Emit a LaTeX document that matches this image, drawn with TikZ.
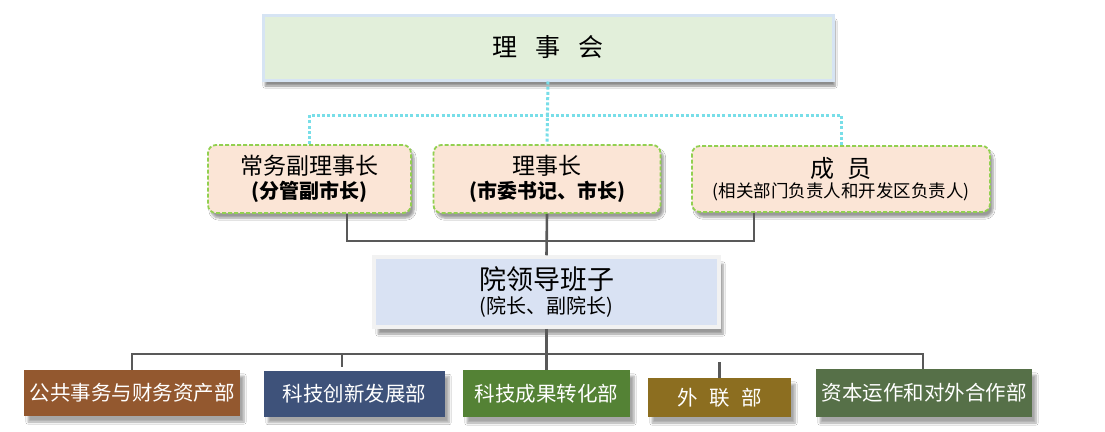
\documentclass[tikz,border=0pt]{standalone}
\usepackage{fontspec}
\setmainfont{Noto Sans CJK SC}
\definecolor{boardgreen}{RGB}{226, 239, 218}
\definecolor{boardedge}{RGB}{214, 228, 243}
\definecolor{leadpeach}{RGB}{251, 229, 214}
\definecolor{leadgreen}{RGB}{146, 208, 80}
\definecolor{instblue}{RGB}{217, 226, 243}
\definecolor{instedge}{RGB}{242, 242, 242}
\definecolor{lineGray}{RGB}{89, 89, 89}
\definecolor{dotCyan}{RGB}{120, 222, 232}
\definecolor{deptBrown}{RGB}{147, 88, 47}
\definecolor{deptBlue}{RGB}{62, 82, 122}
\definecolor{deptGreen}{RGB}{84, 130, 53}
\definecolor{deptOlive}{RGB}{140, 110, 32}
\definecolor{deptMoss}{RGB}{86, 112, 72}
\usetikzlibrary{shadows.blur}

\begin{document}
\begin{tikzpicture}[x=1pt, y=-1pt,
    board/.style={rectangle, draw=boardedge, line width=3pt, fill=boardgreen, inner sep=0pt,
      blur shadow={shadow xshift=2pt, shadow yshift=-6pt, shadow opacity=45, shadow blur steps=6}},
    leader/.style={rectangle, rounded corners=8pt, draw=leadgreen, line width=1.8pt,
      dash pattern=on 4pt off 2pt, fill=leadpeach, inner sep=0pt, align=center,
      blur shadow={shadow xshift=3pt, shadow yshift=-5pt, shadow opacity=40, shadow blur steps=6}},
    inst/.style={rectangle, draw=instedge, line width=3.5pt, fill=instblue, inner sep=0pt, align=center,
      blur shadow={shadow xshift=4pt, shadow yshift=-7pt, shadow opacity=40, shadow blur steps=6}},
    dept/.style={rectangle, inner sep=0pt, text=white, font=\fontsize{20.5}{24}\selectfont,
      blur shadow={shadow xshift=4pt, shadow yshift=-6pt, shadow opacity=35, shadow blur steps=6}},
    conn/.style={draw=lineGray, line width=2.6pt},
    dots/.style={draw=dotCyan, line width=3pt, dash pattern=on 3pt off 2.2pt}]

    \useasboundingbox[fill=white] (0,0) rectangle (1105,431);

    % board
    \node[board, minimum width=570pt, minimum height=65pt, font=\fontsize{25}{30}\selectfont] (lsh) at (548,47.5) {理\,\,\, 事\,\,\, 会};

    % leaders
    \node[leader, minimum width=203pt, minimum height=68pt] (fu) at (309.5,179)
      {{\fontsize{23}{23}\selectfont 常务副理事长}\\[3pt]{\fontsize{20}{20}\selectfont\bfseries (分管副市长)}};
    \node[leader, minimum width=227pt, minimum height=68pt] (lsz) at (547,179)
      {{\fontsize{23}{23}\selectfont 理事长}\\[3pt]{\fontsize{20}{20}\selectfont\bfseries (市委书记、市长)}};
    \node[leader, minimum width=298pt, minimum height=66pt] (cy) at (841,179)
      {{\fontsize{24}{24}\selectfont 成\,\, 员}\\[2pt]{\fontsize{17.5}{18}\selectfont (相关部门负责人和开发区负责人)}};

    % institute
    \node[inst, minimum width=345pt, minimum height=70pt] (ylb) at (546.5,292)
      {{\fontsize{27}{27}\selectfont 院领导班子}\\[3pt]{\fontsize{20}{20}\selectfont (院长、副院长)}};

    % departments
    \node[dept, fill=deptBrown, minimum width=216pt, minimum height=46pt] (gg) at (132,393) {公共事务与财务资产部};
    \node[dept, fill=deptBlue, minimum width=181pt, minimum height=46pt] (kc) at (354.5,393.5) {科技创新发展部};
    \node[dept, fill=deptGreen, minimum width=167pt, minimum height=47pt] (cg) at (546.5,393.5) {科技成果转化部};
    \node[dept, fill=deptOlive, minimum width=143pt, minimum height=39pt] (wl) at (719.5,397.5) {外\,\, 联\,\, 部};
    \node[dept, fill=deptMoss, minimum width=216pt, minimum height=48pt] (zb) at (924,393) {资本运作和对外合作部};

    \coordinate (dl) at (310,115);
    \coordinate (bl) at (347,241);
    \coordinate (br) at (754,241);
    \coordinate (hl) at (132,354);
    \coordinate (hr) at (923,354);
    \coordinate (s2) at (342,367);
    \coordinate (s4) at (719.5,362);

    % dotted links
    \draw[dots] (lsh.south) -- (lsz.north);
    \draw[dots] (fu.north) -- (fu.north |- dl) -- (cy.north |- dl) -- (cy.north);

    % leaders to institute
    \draw[conn] (fu.south -| bl) -- (bl) -- (br) -- (cy.south -| br);
    \draw[conn] (lsz.south) -- (ylb.north);

    % institute to departments
    \draw[conn] (ylb.south) -- (cg.north);
    \draw[conn] (gg.north -| hl) -- (hl) -- (hr) -- (zb.north -| hr);
    \draw[conn] (s2 |- hl) -- (s2);
    \draw[conn] (wl.north) -- (s4);
\end{tikzpicture}
\end{document}
